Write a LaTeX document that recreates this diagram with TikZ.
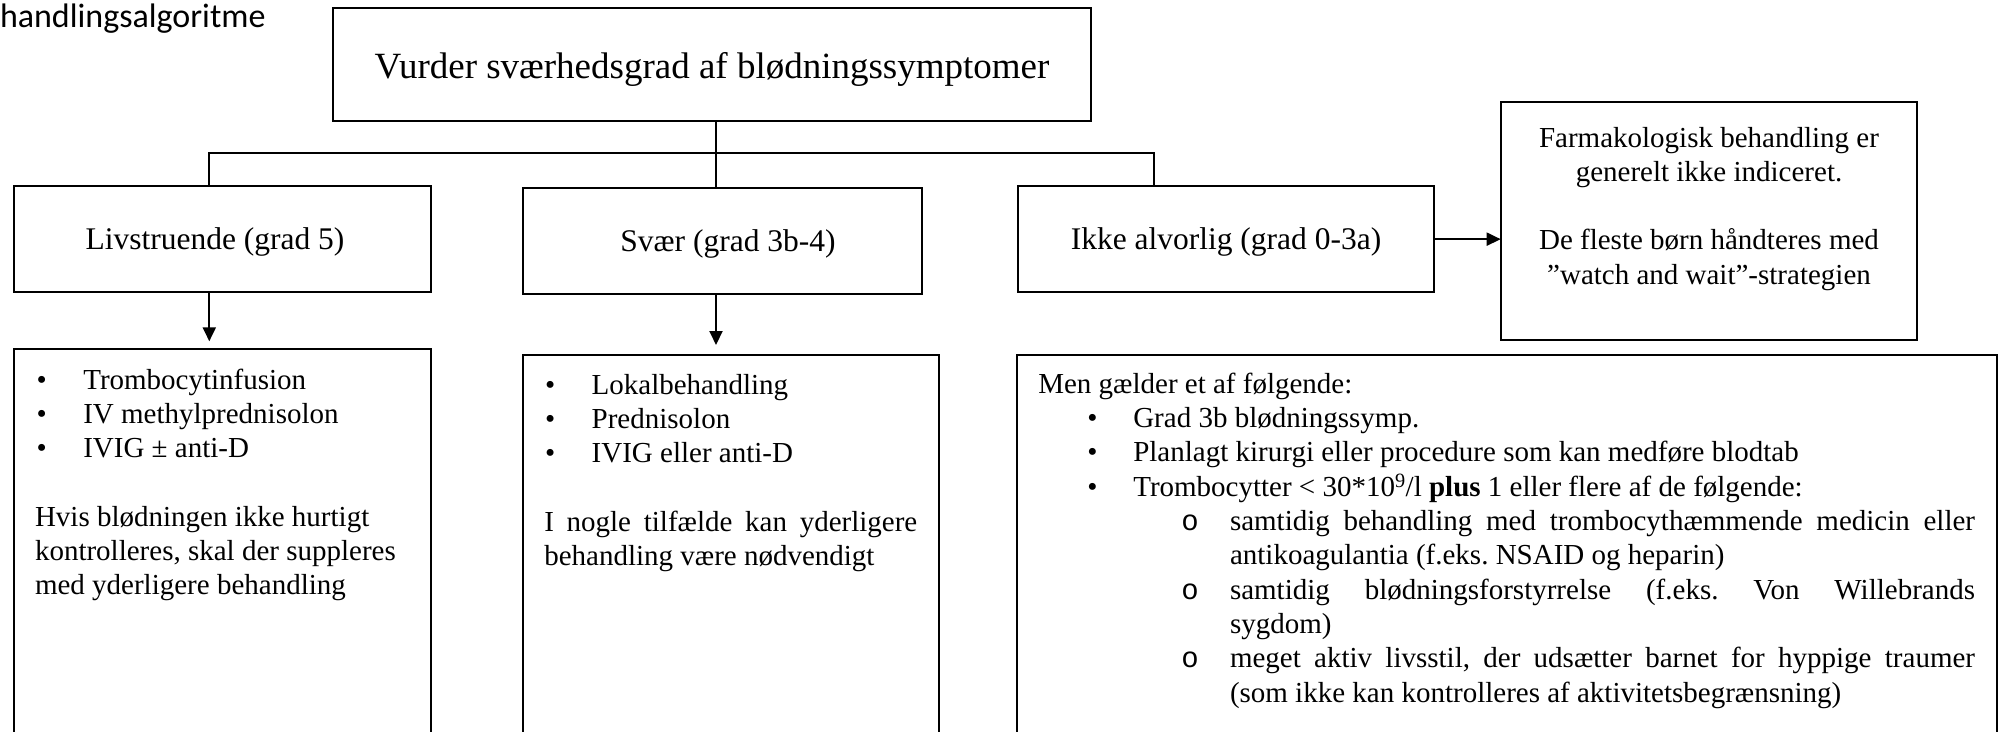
\documentclass[tikz,border=0pt]{standalone}
\usepackage{fontspec}
\setmainfont{Liberation Serif}
\newfontfamily\calfont{Carlito}
\newfontfamily\mfont{Liberation Mono}
\usetikzlibrary{arrows.meta}
\frenchspacing
\newcommand\bodyfont{\fontsize{29}{34.3}\selectfont}
\newcommand\ctrl[1]{\hbox to\hsize{\hss#1\hss}}
\newcommand\lln[1]{\hbox{#1}}
\newcommand\jln[1]{\hbox to\hsize{#1}}
\newcommand\blankln{\hbox{}}
\newcommand\lines[2]{\vtop{\hsize=#1\relax\bodyfont\frenchspacing\baselineskip=34.3pt\lineskiplimit=-100pt\lineskip=0pt\relax #2}}
\newcommand\bulL[1]{\hbox{\hbox to 48.3pt{\hskip1.6pt\relax\textbullet\hss}#1}}
\newcommand\bulM[1]{\hbox{\hbox to 47.4pt{\hskip0.7pt\relax\textbullet\hss}#1}}
\newcommand\bulR[1]{\hbox{\hbox to 95pt{\hskip49pt\relax\textbullet\hss}#1}}
\newcommand\subR[1]{\hbox{\hbox to 191.7pt{\hskip143pt\relax{\mfont o}\hss}\hbox to 745pt{#1}}}
\newcommand\subL[1]{\hbox{\hskip191.7pt\relax #1}}
\tikzset{
  box/.style={draw, line width=2pt, inner sep=0pt, outer sep=0pt, anchor=north west},
  txt/.style={inner sep=0pt, outer sep=0pt},
  midfont/.style={font=\fontsize{31.5}{36}\selectfont},
  conn/.style={line width=2pt},
  arr/.style={line width=2pt, -{Triangle[length=14pt,width=13pt]}},
}
\begin{document}
\begin{tikzpicture}[x=1pt,y=-1pt]
\useasboundingbox (0,0) rectangle (2009,731);
\clip (0,0) rectangle (2009,731);
% heading fragment
\node[txt, anchor=base west, font=\calfont\fontsize{34}{40}\selectfont] (head) at (0,27) {handlingsalgoritme};
% boxes
\node[box, minimum width=757.7pt, minimum height=113pt] (top) at (333.3,8) {};
\node[box, minimum width=416.7pt, minimum height=105.7pt] (liv) at (14,186) {};
\node[box, minimum width=398.8pt, minimum height=105.7pt] (sv) at (522.7,188.3) {};
\node[box, minimum width=416pt, minimum height=106.3pt] (ikke) at (1018,186) {};
\node[box, minimum width=416.6pt, minimum height=238.3pt] (farm) at (1500.7,101.7) {};
\node[box, minimum width=416.7pt, minimum height=400pt] (bl) at (14,349.3) {};
\node[box, minimum width=416pt, minimum height=400pt] (bm) at (522.5,355) {};
\node[box, minimum width=980pt, minimum height=400pt] (br) at (1016.7,355) {};
% texts
\node[txt, anchor=base, font=\fontsize{37}{44}\selectfont] (topt) at (712,78.3) {Vurder sværhedsgrad af blødningssymptomer};
\node[txt, anchor=base, midfont] (livt) at (215,249) {Livstruende (grad 5)};
\node[txt, anchor=base, midfont] (svt) at (728,251) {Svær (grad 3b-4)};
\node[txt, anchor=base, midfont] (ikket) at (1226,249) {Ikke alvorlig (grad 0-3a)};
\node[txt, anchor=base west] (farmt) at (1500.7,147) {\lines{416.6pt}{%
\ctrl{Farmakologisk behandling er}
\ctrl{generelt ikke indiceret.}
\blankln
\ctrl{De fleste børn håndteres med}
\ctrl{”watch and wait”-strategien}}};
\node[txt, anchor=base west] (blt) at (35,389) {\lines{390pt}{%
\bulL{Trombocytinfusion}
\bulL{IV methylprednisolon}
\bulL{IVIG ± anti-D}
\blankln
\lln{Hvis blødningen ikke hurtigt}
\lln{kontrolleres, skal der suppleres}
\lln{med yderligere behandling}}};
\node[txt, anchor=base west] (bmt) at (544.3,394) {\lines{373pt}{%
\bulM{Lokalbehandling}
\bulM{Prednisolon}
\bulM{IVIG eller anti-D}
\blankln
\jln{I nogle tilfælde kan yderligere}
\lln{behandling være nødvendigt}}};
\node[txt, anchor=base west] (brt) at (1038.3,393.3) {\lines{950pt}{%
\lln{Men gælder et af følgende:}
\bulR{Grad 3b blødningssymp.}
\bulR{Planlagt kirurgi eller procedure som kan medføre blodtab}
\bulR{Trombocytter < 30*10\textsuperscript{9}/l \textbf{plus} 1 eller flere af de følgende:}
\subR{samtidig behandling med trombocythæmmende medicin eller}
\subL{antikoagulantia (f.eks. NSAID og heparin)}
\subR{samtidig blødningsforstyrrelse (f.eks. Von Willebrands}
\subL{sygdom)}
\subR{meget aktiv livsstil, der udsætter barnet for hyppige traumer}
\subL{(som ikke kan kontrolleres af aktivitetsbegrænsning)}}};
% connectors
\coordinate (jL) at (209.3,152.5);
\coordinate (jM) at (716,152.5);
\coordinate (jR) at (1154,152.5);
\draw[conn] (jL |- liv.north) -- (jL) -- (jR) -- (jR |- ikke.north);
\draw[conn] (jM |- top.south) -- (jM |- sv.north);
\draw[arr] (jL |- liv.south) -- ([yshift=8pt]jL |- bl.north);
\draw[arr] (jM |- sv.south) -- ([yshift=10pt]jM |- bm.north);
\draw[arr] (ikke.east) -- (farm.west |- ikke.east);
\end{tikzpicture}
\end{document}
